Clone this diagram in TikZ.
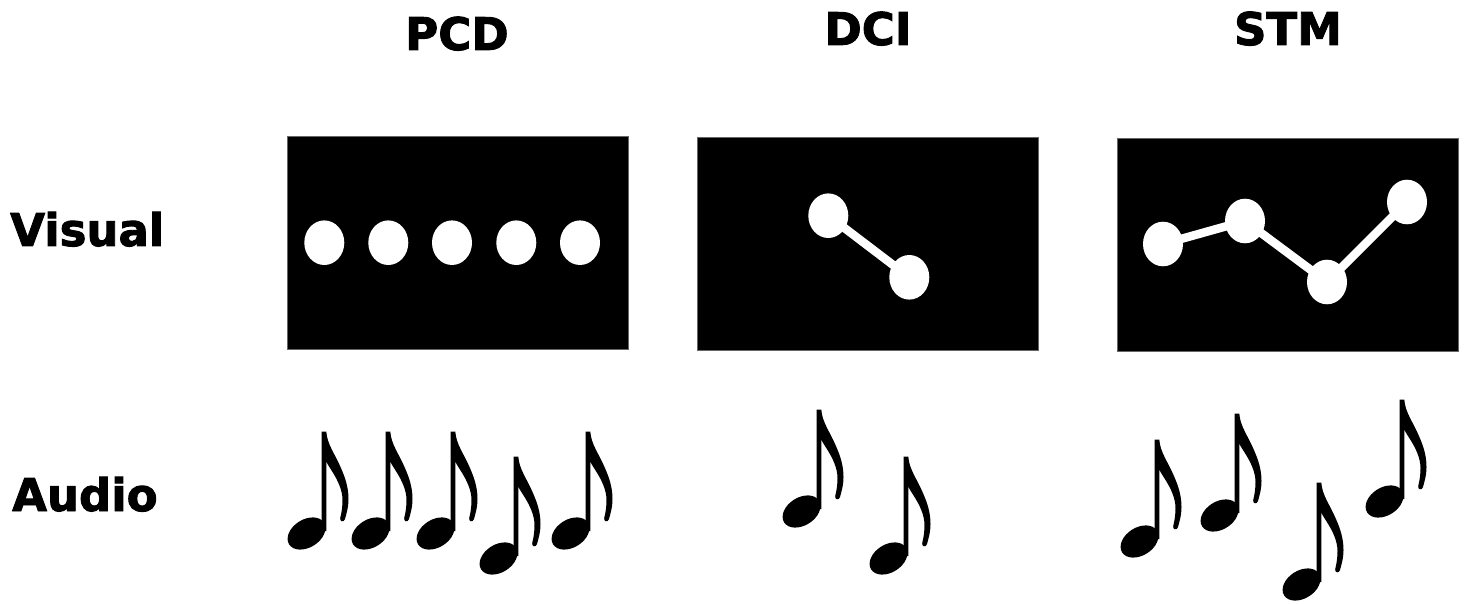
\documentclass[tikz,border=0pt]{standalone}
\usepackage{fontspec}
\setmainfont{DejaVu Sans}[BoldFeatures={FakeBold=2}]
\usetikzlibrary{shapes.geometric}
\tikzset{
  lbl/.style={font=\fontsize{45}{54}\selectfont\bfseries, inner sep=0pt, anchor=base},
  rowlbl/.style={lbl, anchor=base west},
  screen/.style={fill=black, draw=black!60, line width=0.5pt, inner sep=0pt, minimum width=341pt, minimum height=213pt},
  dot/.style={fill=white, ellipse, inner sep=0pt, minimum width=40pt, minimum height=44.6pt},
  link/.style={white, line width=8.5pt},
  note/.pic={
    \fill (-2.3,-0.5) -- (2.3,-0.5)
      .. controls (3,12) and (11,22) .. (16.5,35)
      .. controls (21,45) and (24.5,55) .. (24.5,67)
      .. controls (24.5,76) and (22,83) .. (21,87)
      .. controls (20,90.5) and (15.5,90) .. (16.2,86)
      .. controls (17.5,81) and (18.5,75) .. (18.5,68)
      .. controls (18.5,58) and (13.5,48) .. (8.5,40)
      .. controls (5.5,35) and (3,32) .. (2.3,29)
      -- (2.3,99) -- (-2.3,99) -- cycle;
    \fill[rotate around={32:(-17.5,101.5)}] (-17.5,101.5) ellipse (20.5 and 14);
  }
}
\begin{document}
\begin{tikzpicture}[x=1pt,y=-1pt]
\useasboundingbox (0,0) rectangle (1467,604);

% column titles
\node[lbl] (tpcd) at (457,50) {PCD};
\node[lbl] (tdci) at (868,45) {DCI};
\node[lbl] (tstm) at (1288,45) {STM};
% row titles
\node[rowlbl] (tvis) at (10,246) {Visual};
\node[rowlbl] (taud) at (12,511) {Audio};

% screens
\node[screen] (spcd) at (457.5,243) {};
\node[screen] (sdci) at (867.8,244.2) {};
\node[screen] (sstm) at (1288,244.5) {};

% PCD dots
\foreach \i/\x in {1/324.3,2/388.3,3/452,4/516.3,5/580}
  \node[dot] (p\i) at (\x,242.7) {};

% DCI dots
\node[dot] (c1) at (828.3,215.7) {};
\node[dot] (c2) at (909.3,277.3) {};
\draw[link] (c1.center) -- (c2.center);

% STM dots
\node[dot] (m1) at (1163,244) {};
\node[dot] (m2) at (1245,221) {};
\node[dot] (m3) at (1327,282) {};
\node[dot] (m4) at (1407,202) {};
\draw[link] (m1.center) -- (m2.center) -- (m3.center) -- (m4.center);

% notes (stem tops)
\foreach \x/\y in {324/432, 388/432, 453/432, 516/457, 588/432}
  \pic at (\x,\y) {note};
\foreach \x/\y in {819/410, 906/457}
  \pic at (\x,\y) {note};
\foreach \x/\y in {1157/440, 1237/414, 1319/483, 1402/400}
  \pic at (\x,\y) {note};
\end{tikzpicture}
\end{document}
